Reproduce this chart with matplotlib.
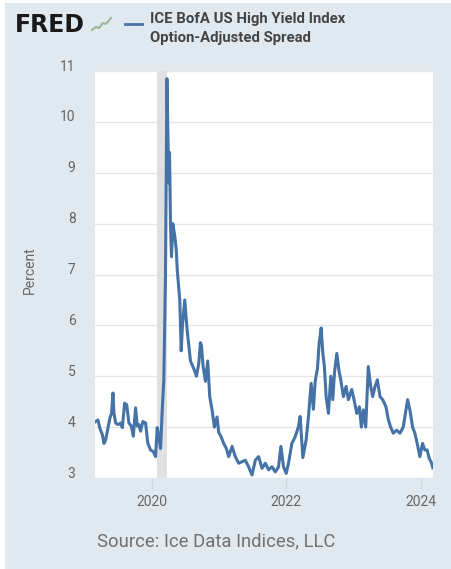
import numpy as np
import matplotlib
matplotlib.use('Agg')
import matplotlib.pyplot as plt
import matplotlib.transforms as mtrans
from matplotlib.patches import Rectangle
from matplotlib.lines import Line2D

plt.rcParams['font.family'] = ['Roboto', 'DejaVu Sans']

# ICE BofA US High Yield OAS (decimal year, percent)
years = [2019.170, 2019.204, 2019.234, 2019.270, 2019.293, 2019.319, 2019.353, 2019.382,
         2019.407, 2019.427, 2019.441, 2019.467, 2019.501, 2019.541, 2019.566, 2019.600,
         2019.630, 2019.664, 2019.699, 2019.729, 2019.763, 2019.788, 2019.812, 2019.837,
         2019.871, 2019.911, 2019.945, 2019.985, 2020.025, 2020.059, 2020.084, 2020.108,
         2020.133, 2020.159, 2020.182, 2020.207, 2020.228, 2020.247, 2020.256, 2020.267,
         2020.281, 2020.296, 2020.316, 2020.345, 2020.366, 2020.381, 2020.419, 2020.440,
         2020.459, 2020.493, 2020.529, 2020.553, 2020.578, 2020.627, 2020.667, 2020.701,
         2020.726, 2020.741, 2020.766, 2020.800, 2020.834, 2020.864, 2020.899, 2020.933,
         2020.973, 2020.997, 2021.033, 2021.071, 2021.111, 2021.145, 2021.196, 2021.244,
         2021.293, 2021.344, 2021.393, 2021.441, 2021.492, 2021.541, 2021.590, 2021.640,
         2021.689, 2021.738, 2021.788, 2021.837, 2021.886, 2021.921, 2021.960, 2022.000,
         2022.034, 2022.084, 2022.133, 2022.182, 2022.207, 2022.247, 2022.296, 2022.330,
         2022.370, 2022.404, 2022.430, 2022.464, 2022.489, 2022.519, 2022.544, 2022.567,
         2022.593, 2022.627, 2022.662, 2022.692, 2022.716, 2022.751, 2022.781, 2022.810,
         2022.849, 2022.889, 2022.923, 2022.973, 2023.007, 2023.047, 2023.086, 2023.116,
         2023.145, 2023.181, 2023.219, 2023.255, 2023.284, 2023.319, 2023.353, 2023.393,
         2023.433, 2023.481, 2023.516, 2023.551, 2023.590, 2023.640, 2023.689, 2023.738,
         2023.778, 2023.803, 2023.837, 2023.877, 2023.911, 2023.945, 2023.985, 2024.025,
         2024.059, 2024.093, 2024.123, 2024.159, 2024.178]
spread = [4.11, 4.14, 3.97, 3.85, 3.68, 3.75, 3.99, 4.18,
          4.28, 4.67, 4.28, 4.08, 4.05, 4.08, 3.99, 4.47,
          4.44, 4.08, 4.02, 3.82, 4.38, 4.02, 4.05, 3.92,
          4.11, 4.08, 3.68, 3.55, 3.52, 3.42, 3.99, 3.82,
          3.58, 4.34, 4.93, 7.00, 10.85, 9.46, 8.80, 9.40,
          8.00, 7.35, 8.00, 7.75, 7.50, 7.10, 6.50, 5.50,
          6.00, 6.50, 5.90, 5.60, 5.30, 5.15, 5.00, 5.25,
          5.66, 5.60, 5.19, 4.90, 5.30, 4.60, 4.34, 4.00,
          4.20, 3.90, 3.81, 3.68, 3.58, 3.42, 3.62, 3.42,
          3.29, 3.32, 3.35, 3.22, 3.06, 3.35, 3.42, 3.19,
          3.29, 3.16, 3.22, 3.12, 3.22, 3.62, 3.22, 3.09,
          3.29, 3.68, 3.81, 4.01, 4.21, 3.40, 3.75, 4.20,
          4.86, 4.35, 4.90, 5.15, 5.65, 5.95, 5.45, 5.19,
          4.60, 4.27, 5.00, 4.54, 5.06, 5.45, 5.13, 4.93,
          4.60, 4.80, 4.54, 4.74, 4.54, 4.27, 4.40, 4.00,
          4.34, 4.00, 5.19, 4.80, 4.60, 4.80, 4.93, 4.60,
          4.54, 4.40, 4.15, 4.00, 3.88, 3.94, 3.88, 4.00,
          4.34, 4.54, 4.34, 4.00, 3.88, 3.68, 3.42, 3.68,
          3.55, 3.55, 3.39, 3.29, 3.20]

recession = (2020.08, 2020.235)
x_ticks = [2020, 2022, 2024]
y_ticks = [3, 4, 5, 6, 7, 8, 9, 10, 11]

bg = '#e1e9f0'
line_color = '#4572a7'

W, H = 451, 569
fig = plt.figure(figsize=(W / 100, H / 100), dpi=100)
fig.patch.set_facecolor('white')
fig.patches.append(Rectangle((5 / W, 0), 1, 1 - 3 / H, transform=fig.transFigure,
                             facecolor=bg, edgecolor='none', zorder=-10))

ax = fig.add_axes([95 / W, (H - 478) / H, (433 - 95) / W, (478 - 71) / H])
ax.set_facecolor('white')
ax.axvspan(*recession, color='#e0e0e0', lw=0, zorder=1)
ax.plot(years, spread, color=line_color, lw=2.2, zorder=3, solid_joinstyle='round')

ax.set_xlim(2019.16, 2024.18)
ax.set_ylim(3, 11)
ax.set_xticks(x_ticks)
ax.set_xticklabels([str(t) for t in x_ticks])
ax.set_yticks(y_ticks)
ax.set_yticklabels([str(t) for t in y_ticks])
ax.grid(axis='y', color='#e6e6e6', lw=1, zorder=0)
ax.set_axisbelow(True)
for s in ax.spines.values():
    s.set_visible(False)
ax.tick_params(axis='x', length=8, width=1, color='#ccd6eb', pad=4,
               labelsize=10, labelcolor='#666666')
ax.tick_params(axis='y', length=0, pad=14, labelsize=10, labelcolor='#666666')
for lab in ax.get_yticklabels():
    lab.set_transform(lab.get_transform() + mtrans.ScaledTranslation(0, 6 / 100, fig.dpi_scale_trans))

fig.text(30 / W, 1 - 270 / H, 'Percent', rotation=90, ha='center', va='center',
         fontsize=10, color='#666666')

# header: logo + legend
fig.text(15 / W, 1 - 25 / H, 'FRED', fontsize=17, fontweight='bold', color='#1a1a1a',
         va='center', ha='left', family='DejaVu Sans')
icon_x = np.array([92, 96, 99, 103, 106, 111]) / W
icon_y = 1 - np.array([30, 27, 28, 23, 24, 18]) / H
fig.lines.append(Line2D(icon_x, icon_y, transform=fig.transFigure, color='#9bb89a', lw=1.5))
fig.lines.append(Line2D([125 / W, 142 / W], [1 - 24 / H, 1 - 24 / H],
                        transform=fig.transFigure, color=line_color, lw=2))
fig.text(150 / W, 1 - 12 / H, 'ICE BofA US High Yield Index\nOption-Adjusted Spread',
         fontsize=10.7, fontweight='bold', color='#444444', va='top', ha='left',
         linespacing=1.45)

fig.text(97 / W, 1 - 541 / H, 'Source: Ice Data Indices, LLC', fontsize=13.3,
         color='#707070', va='center', ha='left')

fig.savefig('out.png', dpi=100, facecolor=fig.get_facecolor())
